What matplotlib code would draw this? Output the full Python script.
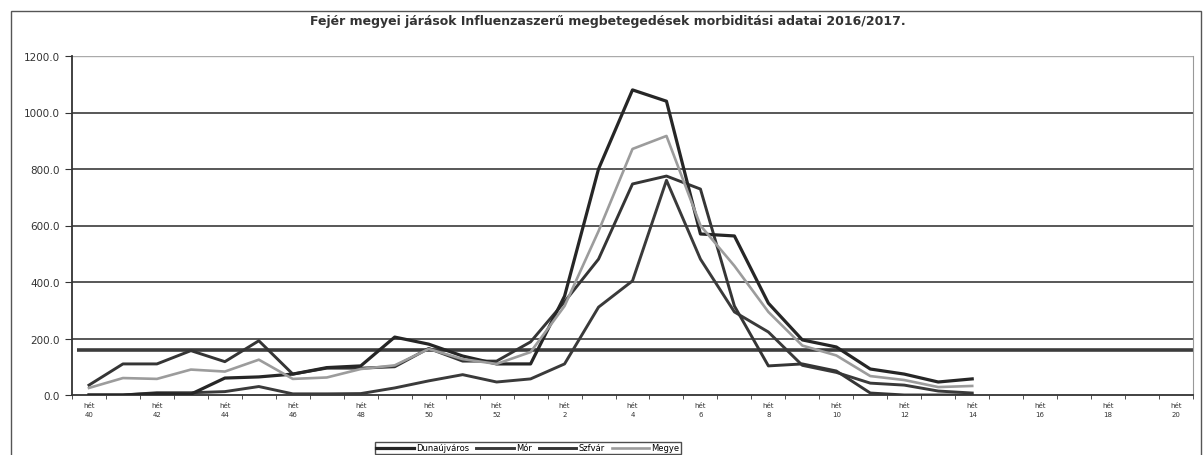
import matplotlib.pyplot as plt
import matplotlib.patches as patches
import numpy as np

plt.rcParams.update({'font.family': 'DejaVu Sans'})

# heti adatok: 2016. 40. héttől 2017. 20. hétig
weeks = list(range(40, 53)) + list(range(1, 21))

dunaujvaros = [0, 0, 5, 3, 60, 64, 74, 97, 103, 205, 180, 138, 110, 110, 350, 800,
               1080, 1040, 570, 563, 325, 195, 170, 92, 74, 46, 57]
mor = [0, 0, 8, 8, 12, 30, 4, 4, 5, 25, 50, 72, 46, 57, 110, 311,
       404, 760, 481, 294, 223, 105, 80, 42, 35, 14, 7]
szfvar = [35, 110, 110, 157, 118, 192, 74, 95, 95, 100, 165, 120, 120, 188, 330, 481,
          747, 775, 729, 315, 103, 110, 85, 7, 0, 0, 0]
megye = [25, 60, 57, 90, 83, 125, 57, 62, 92, 105, 163, 127, 110, 152, 315, 580,
         871, 917, 600, 457, 294, 175, 140, 67, 53, 28, 32]
threshold = 160

fig = plt.figure(figsize=(12.04, 4.56), dpi=100)
ax = fig.add_axes([72/1204, 1-396/456, (1193-72)/1204, (396-57)/456])

# outer frame
fig.patches.append(patches.Rectangle((11/1204, -0.01), 1190/1204, 1-12/456+0.01,
                                     transform=fig.transFigure, fill=False,
                                     edgecolor='#555555', lw=1.0))

for y in range(200, 1200, 200):
    ax.axhline(y, color='#4a4a4a', lw=1.3, zorder=1)
ax.axhline(1200, color='#aaaaaa', lw=1.0, zorder=1)
ax.hlines(threshold, -0.35, 32.5, color='#3c3c3c', lw=2.6, zorder=2)

x = np.arange(len(dunaujvaros))
ax.plot(x, dunaujvaros, color='#262626', lw=2.3, label='Dunaújváros', zorder=4)
ax.plot(x, mor, color='#3a3a3a', lw=2.1, label='Mór', zorder=3)
ax.plot(x, szfvar, color='#353535', lw=2.1, label='Szfvár', zorder=3)
ax.plot(x, megye, color='#9c9c9c', lw=1.9, label='Megye', zorder=5)

ax.set_xlim(-0.5, len(weeks) - 0.5)
ax.set_ylim(0, 1200)
ax.set_yticks(np.arange(0, 1201, 200))
ax.set_yticklabels([f"{v:.1f}" for v in np.arange(0, 1201, 200)],
                   fontsize=7.5, color='#333333')
ax.set_xticks(np.arange(0, len(weeks), 2))
ax.set_xticklabels([f"hét\n{w}" for w in weeks[::2]], fontsize=5, color='#333333',
                   linespacing=1.6)
ax.set_xticks(np.arange(-0.5, len(weeks), 1), minor=True)
ax.tick_params(axis='x', which='major', length=0, pad=5)
ax.tick_params(axis='x', which='minor', length=3, color='#333333')
ax.tick_params(axis='y', length=5, color='#333333', pad=4)

ax.spines['top'].set_visible(False)
ax.spines['right'].set_color('#999999')
ax.spines['left'].set_color('#333333')
ax.spines['bottom'].set_color('#333333')
ax.spines['left'].set_linewidth(1.3)
ax.spines['bottom'].set_linewidth(1.3)

fig.text(0.505, 1-22/456, "Fejér megyei járások Influenzaszerű megbetegedések morbiditási adatai 2016/2017.",
         ha='center', va='center', fontsize=9, fontweight='bold', color='#333333')

leg = fig.legend(loc='center', bbox_to_anchor=(528/1204, 1-449/456), ncol=4,
                 fontsize=6, frameon=True, fancybox=False, handlelength=4.5,
                 columnspacing=0.8, handletextpad=0.3, borderpad=0.15)
leg.get_frame().set_edgecolor('#222222')
leg.get_frame().set_linewidth(1.0)

fig.savefig('out.png', dpi=100)
